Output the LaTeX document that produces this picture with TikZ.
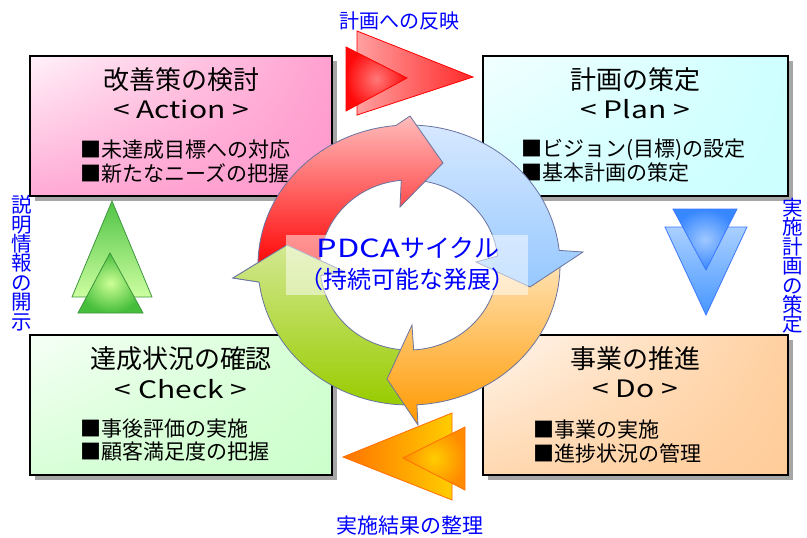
\documentclass[tikz,border=0pt]{standalone}
\usepackage{fontspec}
\setmainfont{Noto Sans CJK JP}
\usepackage{graphicx}
\usetikzlibrary{shadows,shadings}
\definecolor{lblue}{RGB}{0,0,255}
\definecolor{ringgray}{RGB}{105,115,160}
\definecolor{aUL}{RGB}{255,242,249}\definecolor{aUR}{RGB}{255,160,208}\definecolor{aLL}{RGB}{255,170,213}\definecolor{aLR}{RGB}{255,153,204}
\definecolor{pUL}{RGB}{242,255,255}\definecolor{pUR}{RGB}{206,255,255}\definecolor{pLL}{RGB}{215,255,255}\definecolor{pLR}{RGB}{204,255,255}
\definecolor{cUL}{RGB}{246,255,246}\definecolor{cUR}{RGB}{212,255,212}\definecolor{cLL}{RGB}{216,255,216}\definecolor{cLR}{RGB}{204,255,204}
\definecolor{dUL}{RGB}{255,246,238}\definecolor{dUR}{RGB}{255,208,160}\definecolor{dLL}{RGB}{255,216,176}\definecolor{dLR}{RGB}{255,204,153}
\definecolor{gTop}{RGB}{210,232,145}\definecolor{gBot}{RGB}{153,204,0}
\definecolor{oTop}{RGB}{255,228,184}\definecolor{oMid}{RGB}{255,185,80}\definecolor{oBot}{RGB}{255,153,0}
\definecolor{bTop}{RGB}{214,232,255}\definecolor{bBot}{RGB}{150,200,255}
\definecolor{rTop}{RGB}{255,188,188}\definecolor{rMid}{RGB}{255,50,50}\definecolor{rBot}{RGB}{255,0,0}
\definecolor{trRedL}{RGB}{255,160,160}\definecolor{trRedR}{RGB}{255,40,40}\definecolor{trRedIn}{RGB}{255,120,120}\definecolor{trRedOut}{RGB}{255,10,10}\definecolor{trRedLine}{RGB}{255,0,0}
\definecolor{trBlT}{RGB}{170,208,255}\definecolor{trBlB}{RGB}{70,150,255}\definecolor{trBlIn}{RGB}{160,200,255}\definecolor{trBlOut}{RGB}{55,135,255}\definecolor{trBlLine}{RGB}{60,120,255}
\definecolor{trGrT}{RGB}{80,195,70}\definecolor{trGrB}{RGB}{205,255,160}\definecolor{trGrIn}{RGB}{205,255,150}\definecolor{trGrOut}{RGB}{70,190,60}\definecolor{trGrLine}{RGB}{60,150,60}
\definecolor{trOrL}{RGB}{255,115,0}\definecolor{trOrR}{RGB}{255,205,0}\definecolor{trOrIn}{RGB}{255,205,0}\definecolor{trOrOut}{RGB}{255,140,0}\definecolor{trOrLine}{RGB}{255,110,0}
\begin{document}
\begin{tikzpicture}[x=1pt,y=-1pt,
  lbl/.style={text=lblue, font=\fontsize{19}{19.3}\selectfont, inner sep=0pt},
  vlbl/.style={text=lblue, font=\fontsize{20.5}{19.4}\selectfont, inner sep=0pt, align=center},
  boxbase/.style={draw=black, line width=1.5pt, minimum height=140pt, inner sep=0pt,
     drop shadow={shadow xshift=5pt, shadow yshift=-5pt, fill=black!35, opacity=1}},
  ttl/.style={font=\fontsize{26}{28}\selectfont, inner sep=0pt},
  subt/.style={font=\fontsize{24}{26}\selectfont, inner sep=0pt},
  itm/.style={font=\fontsize{21}{23}\selectfont, anchor=west, inner sep=0pt},
  ring/.style={draw=ringgray, line width=0.8pt},
  ctxt/.style={text=lblue, inner sep=0pt}]
\useasboundingbox (0,0) rectangle (807,538);
\fill[white] (0,0) rectangle (807,538);

% ---------- boxes ----------
\node[boxbase, minimum width=302pt, upper left=aUL, upper right=aUR, lower left=aLL, lower right=aLR] (act) at (181,126) {};
\node[boxbase, minimum width=305pt, upper left=pUL, upper right=pUR, lower left=pLL, lower right=pLR] (plan) at (635.5,126) {};
\node[boxbase, minimum width=302pt, upper left=cUL, upper right=cUR, lower left=cLL, lower right=cLR] (chk) at (181,405) {};
\node[boxbase, minimum width=305pt, upper left=dUL, upper right=dUR, lower left=dLL, lower right=dLR] (do) at (635.5,405) {};

% box texts
\node[ttl] (actT) at (181,80) {改善策の検討};
\node[subt] (actS) at (181,109) {\scalebox{1.25}[1]{< Action >}};
\node[itm] (actI1) at (80,150) {■未達成目標への対応};
\node[itm] (actI2) at (80,173) {■新たなニーズの把握};

\node[ttl] (planT) at (635,80) {計画の策定};
\node[subt] (planS) at (635,109) {\scalebox{1.25}[1]{< Plan >}};
\node[itm] (planI1) at (521,150) {■ビジョン(目標)の設定};
\node[itm] (planI2) at (521,173) {■基本計画の策定};

\node[ttl] (chkT) at (181,359) {達成状況の確認};
\node[subt] (chkS) at (181,389) {\scalebox{1.25}[1]{< Check >}};
\node[itm] (chkI1) at (80,429) {■事後評価の実施};
\node[itm] (chkI2) at (80,452) {■顧客満足度の把握};

\node[ttl] (doT) at (635,359) {事業の推進};
\node[subt] (doS) at (635,389) {\scalebox{1.25}[1]{< Do >}};
\node[itm] (doI1) at (533,430) {■事業の実施};
\node[itm] (doI2) at (533,453) {■進捗状況の管理};

% ---------- ring ----------
% green
\path[ring, top color=gTop, bottom color=gBot]
  plot[domain=90:173, samples=40, variable=\t] ({409+151*cos(\t)},{265+140*sin(\t)})
  -- (233,278) -- (287,245) -- (345,272)
  -- plot[domain=173:90, samples=40, variable=\t] ({409+89*cos(\t)},{265+85*sin(\t)}) -- cycle;
% orange
\path[ring, top color=oTop, middle color=oMid, bottom color=oBot]
  plot[domain=357:447, samples=40, variable=\t] ({409+151*cos(\t)},{265+140*sin(\t)})
  -- (418,425) -- (387,379) -- (412,325)
  -- plot[domain=447:357, samples=40, variable=\t] ({409+89*cos(\t)},{265+85*sin(\t)}) -- cycle;
% blue
\path[ring, top color=bTop, bottom color=bBot]
  plot[domain=272:354, samples=40, variable=\t] ({409+151*cos(\t)},{265+140*sin(\t)})
  -- (583,252) -- (530,287) -- (476,262)
  -- plot[domain=354:272, samples=40, variable=\t] ({409+89*cos(\t)},{265+85*sin(\t)}) -- cycle;
% red
\path[ring, top color=rTop, middle color=rMid, bottom color=rBot]
  plot[domain=178:265, samples=40, variable=\t] ({409+151*cos(\t)},{265+140*sin(\t)})
  -- (410,116) -- (443,163) -- (400,207)
  -- plot[domain=265:178, samples=40, variable=\t] ({409+89*cos(\t)},{265+85*sin(\t)}) -- cycle;
% green head on top of red tail
\begin{scope}
  \clip ({409+151*cos(173)},{265+140*sin(173)}) -- (233,278) -- (287,245) -- (345,272) -- ({409+89*cos(173)},{265+85*sin(173)}) -- cycle;
  \path[top color=gTop, bottom color=gBot]
    plot[domain=90:173, samples=40, variable=\t] ({409+151*cos(\t)},{265+140*sin(\t)})
    -- (233,278) -- (287,245) -- (345,272)
    -- plot[domain=173:90, samples=40, variable=\t] ({409+89*cos(\t)},{265+85*sin(\t)}) -- cycle;
\end{scope}
\draw[ring] ({409+151*cos(173)},{265+140*sin(173)}) -- (233,278) -- (287,245) -- (345,272) -- ({409+89*cos(173)},{265+85*sin(173)});

% centre label
\fill[white, opacity=0.5] (286,235) rectangle (528,295);
\node[ctxt, font=\fontsize{25}{27}\selectfont] (pdca) at (408,248) {\scalebox{1.3}[1]{PDCA}サイクル};
\node[ctxt, font=\fontsize{24}{26}\selectfont] (jizoku) at (407,279) {（持続可能な発展）};

% ---------- transfer arrows ----------
% top (red)
\path[draw=trRedLine, line width=0.8pt, left color=trRedL, right color=trRedR]
  (357,31) -- (473,77) -- (357,115) -- cycle;
\path[draw=trRedLine, line width=0.8pt, inner color=trRedIn, outer color=trRedOut]
  (346,47) -- (407,78) -- (346,111) -- cycle;
% right (blue)
\path[draw=trBlLine, line width=0.8pt, top color=trBlT, bottom color=trBlB]
  (665,227) -- (747,227) -- (706,315) -- cycle;
\path[draw=trBlLine, line width=0.8pt, inner color=trBlIn, outer color=trBlOut]
  (673,209) -- (737,209) -- (706,270) -- cycle;
% left (green)
\path[draw=trGrLine, line width=0.8pt, top color=trGrT, bottom color=trGrB]
  (112,201) -- (152,297) -- (72,297) -- cycle;
\path[draw=trGrLine, line width=0.8pt, inner color=trGrIn, outer color=trGrOut]
  (110,253) -- (143,313) -- (78,313) -- cycle;
% bottom (orange)
\path[draw=trOrLine, line width=0.8pt, left color=trOrL, right color=trOrR]
  (343,457) -- (452,413) -- (452,500) -- cycle;
\path[draw=trOrLine, line width=0.8pt, inner color=trOrIn, outer color=trOrOut]
  (403,458) -- (465,427) -- (465,490) -- cycle;

% ---------- side labels ----------
\node[lbl, font=\fontsize{20}{21}\selectfont] (topL) at (399,21) {計画への反映};
\node[lbl, font=\fontsize{21}{22}\selectfont] (botL) at (410,526) {実施結果の整理};
\node[vlbl] (leftL) at (22,263) {説\\明\\情\\報\\の\\開\\示};
\node[vlbl] (rightL) at (793,266) {実\\施\\計\\画\\の\\策\\定};
\end{tikzpicture}
\end{document}
